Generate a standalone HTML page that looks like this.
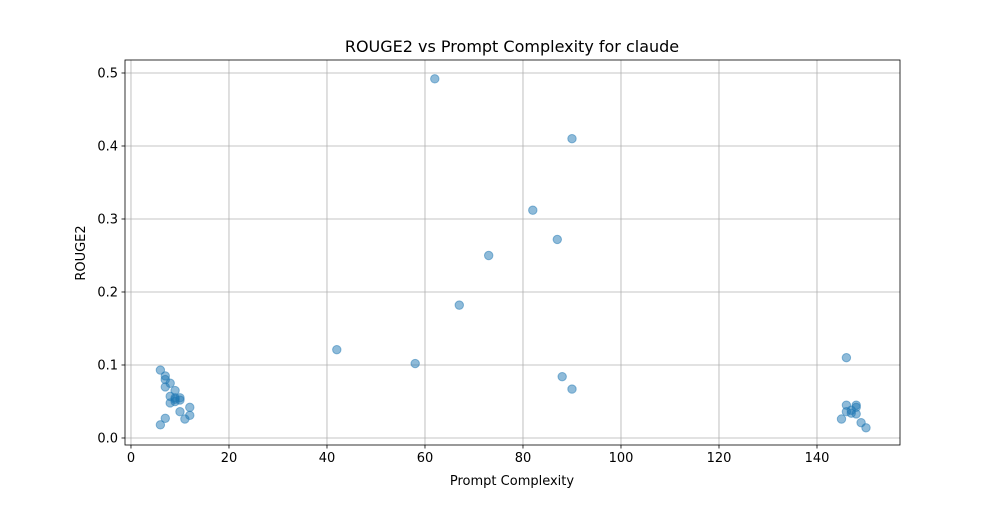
<!DOCTYPE html>
<html><head><meta charset="utf-8"><style>
body{margin:0;background:#fff}
svg text{font-family:"DejaVu Sans","Liberation Sans",sans-serif;fill:#000}
</style></head><body>
<svg id="chart" width="1000" height="500" xmlns="http://www.w3.org/2000/svg"></svg>
<script>
const xs=[6,7,7,7,8,8,9,9,9,10,10,8,10,11,12,12,7,6,9,145,146,146,146,147,148,148,148,149,150,147,42,58,62,67,73,82,87,88,90,90];
const ys=[0.093,0.085,0.080,0.070,0.075,0.057,0.065,0.055,0.050,0.055,0.052,0.048,0.036,0.026,0.042,0.031,0.027,0.018,0.053,0.026,0.110,0.045,0.036,0.034,0.045,0.042,0.033,0.021,0.014,0.038,0.121,0.102,0.492,0.182,0.25,0.312,0.272,0.084,0.41,0.067];
const xTicks=[0,20,40,60,80,100,120,140];
const yTicks=[0.0,0.1,0.2,0.3,0.4,0.5];
const L=125,R=900,T=60,B=445,xmin=-1.22,xmax=156.94,ymin=-0.0096,ymax=0.5178;
const sx=v=>L+(v-xmin)/(xmax-xmin)*(R-L);
const sy=v=>B-(v-ymin)/(ymax-ymin)*(B-T);
const svg=document.getElementById('chart');const NS='http://www.w3.org/2000/svg';
function mk(t,a,p){const e=document.createElementNS(NS,t);for(const k in a)e.setAttribute(k,a[k]);(p||svg).appendChild(e);return e;}
xTicks.forEach(v=>{const x=sx(v);
const g=mk('line',{x1:x,x2:x,y1:T,y2:B,stroke:'#b0b0b0','stroke-width':0.8});

const k=mk('line',{x1:x,x2:x,y1:B,y2:B+3.5,stroke:'#000','stroke-width':0.8});

const t=mk('text',{x:x,y:B+17,'text-anchor':'middle','font-size':13});t.textContent=v;
});
yTicks.forEach(v=>{const y=sy(v);
const g=mk('line',{x1:L,x2:R,y1:y,y2:y,stroke:'#b0b0b0','stroke-width':0.8});

const k=mk('line',{x1:L-3.5,x2:L,y1:y,y2:y,stroke:'#000','stroke-width':0.8});

const t=mk('text',{x:L-7,y:y+4.5,'text-anchor':'end','font-size':13});t.textContent=v.toFixed(1);
});
xs.forEach((v,i)=>{const c=mk('circle',{cx:sx(v),cy:sy(ys[i]),r:4.2,fill:'#1f77b4','fill-opacity':0.5,stroke:'#1f77b4','stroke-opacity':0.5,'stroke-width':1});
});
const f=mk('rect',{x:L,y:T,width:R-L,height:B-T,fill:'none',stroke:'#000','stroke-width':0.8});

let t=mk('text',{x:512,y:52,'text-anchor':'middle','font-size':16});t.textContent='ROUGE2 vs Prompt Complexity for claude';

t=mk('text',{x:512,y:485,'text-anchor':'middle','font-size':13});t.textContent='Prompt Complexity';

t=mk('text',{x:85,y:253,'text-anchor':'middle','font-size':13,transform:'rotate(-90 85 253)'});t.textContent='ROUGE2';

</script></body></html>
